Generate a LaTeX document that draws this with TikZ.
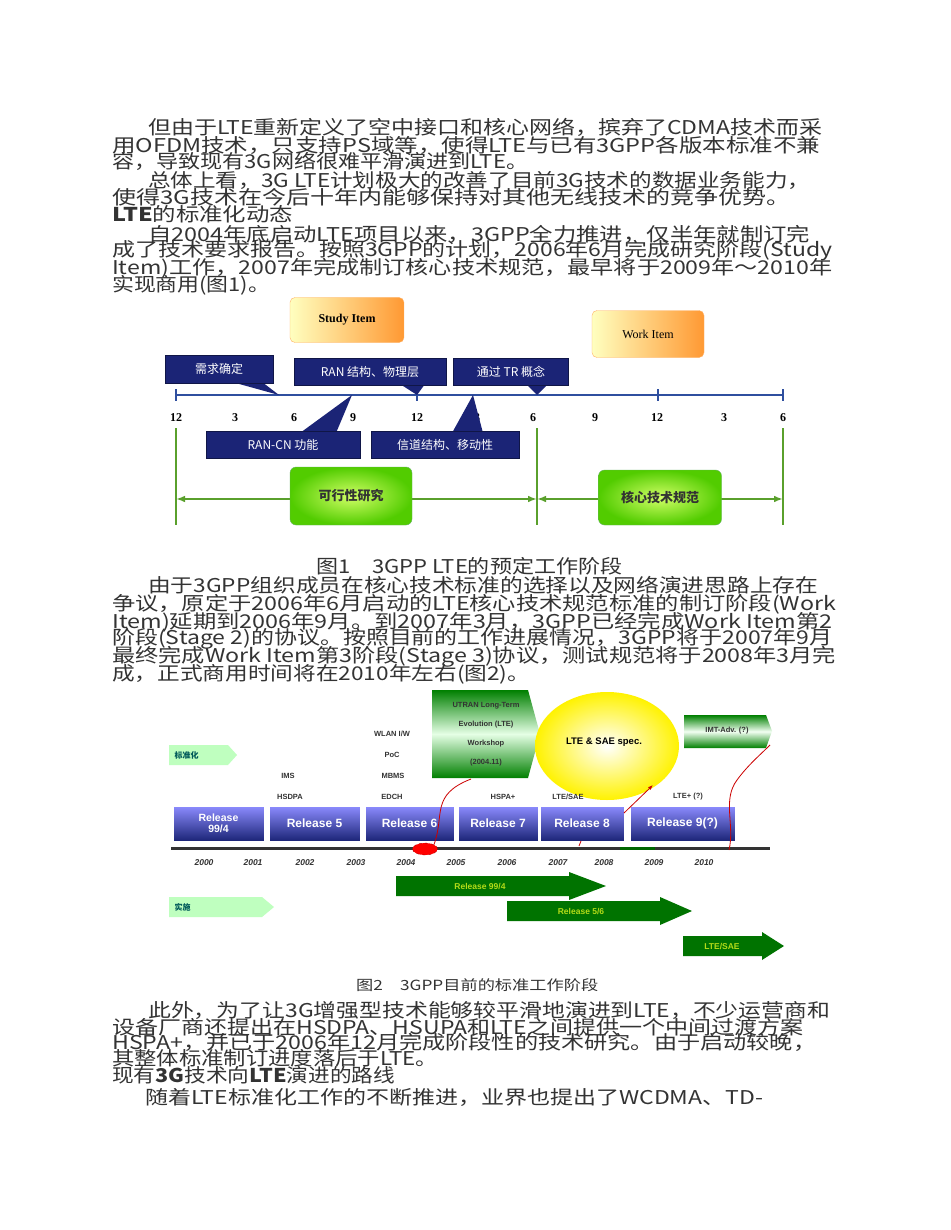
\documentclass[tikz,border=0pt]{standalone}
\usepackage{fontspec}
\usepackage{graphicx}
\setmainfont{Noto Sans CJK SC}
\newfontfamily\lat{Liberation Sans}
\newfontfamily\serifcn{Liberation Serif}
\usetikzlibrary{arrows.meta,shapes.geometric}
\definecolor{navy}{HTML}{1B2476}
\definecolor{tline}{HTML}{2F4F9F}
\definecolor{gline}{HTML}{5AA02C}
\definecolor{ltxt}{HTML}{333333}
\newcommand{\tl}[5]{\node[anchor=west,inner sep=0,text=ltxt,font=\fontsize{19}{19}\selectfont] (#1) at (#2,#3) {\resizebox{#4pt}{\height}{#5}};}
\tikzset{
 navybox/.style={fill=navy,draw=navy!60!black,text=white,font=\fontsize{12}{12}\selectfont,inner sep=0},
 orbox/.style={draw=orange!60,rounded corners=5pt,left color=yellow!25,right color=orange!80,font=\serifcn\bfseries\fontsize{12}{12}\selectfont},
 grbox/.style={rounded corners=6pt,inner color=yellow!70!green!60,outer color=green!60!yellow!80!black,draw=green!50!black!60,font=\fontsize{13}{13}\selectfont\bfseries,text=black!80},
 relbox/.style={top color=blue!45!white,bottom color=navy,draw=white,line width=1pt,minimum height=35},
 relt/.style={text=white,font=\lat\bfseries\fontsize{12}{12}\selectfont,align=center},
 smallt/.style={font=\lat\bfseries\fontsize{7.5}{8}\selectfont,text=black!80},
 yr/.style={font=\lat\bfseries\itshape\fontsize{8.5}{9}\selectfont,text=black!80},
 arrt/.style={font=\lat\bfseries\fontsize{8.5}{9}\selectfont,text=yellow!70!green},
}
\begin{document}
\begin{tikzpicture}[x=1pt,y=-1pt]
\useasboundingbox (0,0) rectangle (950,1230);
\fill[white] (0,0) rectangle (950,1230);
% paragraph 1
\tl{a1}{148}{127}{674}{但由于LTE重新定义了空中接口和核心网络，摈弃了CDMA技术而采}
\tl{a2}{112}{145}{708}{用OFDM技术，只支持PS域等，使得LTE与已有3GPP各版本标准不兼}
\tl{a3}{112}{161}{416}{容，导致现有3G网络很难平滑演进到LTE。}
\tl{a4}{148}{180}{662}{总体上看，3G LTE计划极大的改善了目前3G技术的数据业务能力，}
\tl{a5}{112}{197}{678}{使得3G技术在今后十年内能够保持对其他无线技术的竞争优势。}
\tl{a6}{112}{214}{181}{\textbf{LTE}的标准化动态}
\tl{a7}{148}{234}{662}{自2004年底启动LTE项目以来，3GPP全力推进，仅半年就制订完}
\tl{a8}{112}{251}{720}{成了技术要求报告。按照3GPP的计划，2006年6月完成研究阶段(Study}
\tl{a9}{112}{268}{720}{Item)工作，2007年完成制订核心技术规范，最早将于2009年～2010年}
\tl{a10}{112}{285}{158}{实现商用(图1)。}
% figure 1
\node[orbox,minimum width=114,minimum height=45] (si) at (347,320) {Study Item};
\node[orbox,minimum width=112,minimum height=47,font=\serifcn\fontsize{12}{12}\selectfont] (wi) at (648,334) {Work Item};
\coordinate (L0) at (176,395); \coordinate (L1) at (783,395);
\draw[tline,line width=2.5pt] (L0) -- (L1);
\foreach \x in {176,417,658,783} \draw[tline,line width=2pt] (\x,389) -- (\x,401);
\foreach \x/\l in {176/12,235/3,294/6,353/9,417/12,477/3,533/6,595/9,657/12,724/3,783/6}
 \node[font=\serifcn\bfseries\fontsize{12}{12}\selectfont] (tk\x) at (\x,418) {\l};
% callouts
\fill[navy] (232,382) -- (279,395) -- (262,382) -- cycle;
\node[navybox,minimum width=108,minimum height=28] (c1) at (219,369) {需求确定};
\fill[navy] (400,384) -- (417,395) -- (425,384) -- cycle;
\node[navybox,minimum width=152,minimum height=27] (c2) at (370,371.5) {RAN 结构、物理层};
\fill[navy] (526,384) -- (537,395) -- (548,384) -- cycle;
\node[navybox,minimum width=115,minimum height=27] (c3) at (511,371.5) {通过 TR 概念};
\fill[navy] (300,433) -- (352,395) -- (336,433) -- cycle;
\node[navybox,minimum width=154,minimum height=27] (c4) at (283,445) {RAN-CN 功能};
\fill[navy] (452,433) -- (473,395) -- (483,433) -- cycle;
\node[navybox,minimum width=148,minimum height=27] (c5) at (445,445) {信道结构、移动性};
% green
\foreach \x in {176,537,783} \draw[gline,line width=2pt] (\x,428) -- (\x,525);
\draw[gline,line width=2pt,{Latex[length=9pt]}-{Latex[length=9pt]}] (176,499) -- (537,499);
\draw[gline,line width=2pt,{Latex[length=9pt]}-{Latex[length=9pt]}] (537,499) -- (783,499);
\node[grbox,minimum width=122,minimum height=58] (g1) at (351,496) {可行性研究};
\node[grbox,minimum width=123,minimum height=55] (g2) at (660,497.5) {核心技术规范};
% caption 1
\tl{cap1}{316}{566}{306}{图1\quad 3GPP LTE的预定工作阶段}
% paragraph 2
\tl{b1}{148}{585}{670}{由于3GPP组织成员在核心技术标准的选择以及网络演进思路上存在}
\tl{b2}{112}{604}{724}{争议，原定于2006年6月启动的LTE核心技术规范标准的制订阶段(Work}
\tl{b3}{112}{622}{720}{Item)延期到2006年9月。到2007年3月，3GPP已经完成Work Item第2}
\tl{b4}{112}{639}{720}{阶段(Stage 2)的协议。按照目前的工作进展情况，3GPP将于2007年9月}
\tl{b5}{112}{657}{724}{最终完成Work Item第3阶段(Stage 3)协议，测试规范将于2008年3月完}
\tl{b6}{112}{674}{418}{成，正式商用时间将在2010年左右(图2)。}
% figure 2
\fill[green!25] (169,745) -- (228,745) -- (237,755) -- (228,765) -- (169,765) -- cycle;
\node[font=\fontsize{8}{8}\selectfont\bfseries,text=teal!70!black,anchor=west] (bz) at (171,755) {标准化};
\fill[green!25] (169,897) -- (262,897) -- (274,907) -- (262,917) -- (169,917) -- cycle;
\node[font=\fontsize{8}{8}\selectfont\bfseries,text=teal!70!black,anchor=west] (ss) at (171,907) {实施};
% UTRAN banner
\shade[top color=green!50!black,bottom color=green!50!black,middle color=green!10] (432,690) -- (528,690) -- (540,734) -- (528,778) -- (432,778) -- cycle;
\node[smallt,align=center,font=\lat\bfseries\fontsize{7.5}{19}\selectfont] (utran) at (486,734) {UTRAN Long-Term\\Evolution (LTE)\\Workshop\\(2004.11)};
% IMT banner
\shade[top color=green!50!black,bottom color=green!50!black,middle color=green!5] (684,715) -- (766,715) -- (772,731) -- (766,748) -- (684,748) -- cycle;
\node[smallt] (imt) at (727,731) {IMT-Adv. (?)};
% circle
\shade[inner color=white,outer color=yellow!90!orange] (607,746) ellipse (72 and 54);
\node[font=\lat\bfseries\fontsize{9.5}{10}\selectfont] (lsae) at (604,742) {LTE \& SAE spec.};
% labels
\node[smallt] (ims) at (288,776) {IMS};
\node[smallt] (hsdpa) at (290,797) {HSDPA};
\node[smallt] (wlan) at (392,734) {WLAN I/W};
\node[smallt] (poc) at (392,755) {PoC};
\node[smallt] (mbms) at (393,776) {MBMS};
\node[smallt] (edch) at (392,797) {EDCH};
\node[smallt] (hspa) at (503,797) {HSPA+};
\node[smallt] (ltesae1) at (568,797) {LTE/SAE};
\node[smallt] (lteplus) at (688,797) {LTE+ (?)};
% releases
\node[relbox,minimum width=91,relt,font=\lat\bfseries\fontsize{10.5}{11}\selectfont] (r1) at (218.5,823.5) {Release\\99/4};
\node[relbox,minimum width=91,relt] (r2) at (314.5,823.5) {Release 5};
\node[relbox,minimum width=89,relt] (r3) at (409.5,823.5) {Release 6};
\node[relbox,minimum width=80,relt] (r4) at (498,823.5) {Release 7};
\node[relbox,minimum width=84,relt] (r5) at (582,823.5) {Release 8};
\node[relbox,minimum width=105,relt] (r6) at (682.5,823.5) {Release 9(?)};
% timeline
\coordinate (T0) at (171,848); \coordinate (T1) at (770,848);
\draw[black!80,line width=3pt] (T0) -- (T1);
\draw[green!40!black,line width=3pt] (620,848) -- (655,848);
\node[fill=red,draw=red!70!black,dashed,ellipse,minimum width=25,minimum height=12,inner sep=0] (red) at (425,849) {};
\foreach \x/\l in {204/2000,253/2001,305/2002,356/2003,406/2004,456/2005,507/2006,558/2007,604/2008,654/2009,704/2010}
 \node[yr] (y\l) at (\x,863) {\l};
% red curves
\coordinate (u1) at (471,779); \coordinate (c8a) at (624,813); \coordinate (c8b) at (653,785);
\coordinate (w0) at (729,850); \coordinate (w1) at (770,745);
\draw[red!80!black,line width=0.8pt] (red.north east) .. controls (445,815) and (430,795) .. (u1);
\draw[red!80!black,line width=0.8pt,-{Latex[length=5pt]}] (c8a) -- (c8b);
\draw[red!80!black,line width=0.8pt] (579,846) -- (581,841);
\draw[red!80!black,line width=0.8pt] (w0) .. controls (735,825) and (722,800) .. (737,780) .. controls (748,765) and (760,755) .. (w1);
% lower arrows
\fill[green!45!black] (396,876) -- (569,876) -- (569,872) -- (606,886) -- (569,900) -- (569,896) -- (396,896) -- cycle;
\node[arrt] (ra) at (480,886) {Release 99/4};
\fill[green!45!black] (507,901) -- (660,901) -- (660,897) -- (692,911) -- (660,925) -- (660,921) -- (507,921) -- cycle;
\node[arrt] (rb) at (581,911) {Release 5/6};
\fill[green!45!black] (683,936) -- (762,936) -- (762,932) -- (784,946) -- (762,960) -- (762,956) -- (683,956) -- cycle;
\node[arrt] (rc) at (722,946) {LTE/SAE};
% caption 2
\node[anchor=west,inner sep=0,text=ltxt,font=\fontsize{14}{14}\selectfont] (cap2) at (356,985) {\resizebox{242pt}{\height}{图2\quad 3GPP目前的标准工作阶段}};
% paragraph 3
\tl{c1t}{148}{1010}{682}{此外，为了让3G增强型技术能够较平滑地演进到LTE，不少运营商和}
\tl{c2t}{112}{1027}{691}{设备厂商还提出在HSDPA、HSUPA和LTE之间提供一个中间过渡方案}
\tl{c3t}{112}{1042}{704}{HSPA+，并已于2006年12月完成阶段性的技术研究。由于启动较晚，}
\tl{c4t}{112}{1058}{326}{其整体标准制订进度落后于LTE。}
\tl{c5t}{112}{1075}{283}{现有\textbf{3G}技术向\textbf{LTE}演进的路线}
\tl{c6t}{145}{1097}{618}{随着LTE标准化工作的不断推进，业界也提出了WCDMA、TD-}
\end{tikzpicture}
\end{document}
